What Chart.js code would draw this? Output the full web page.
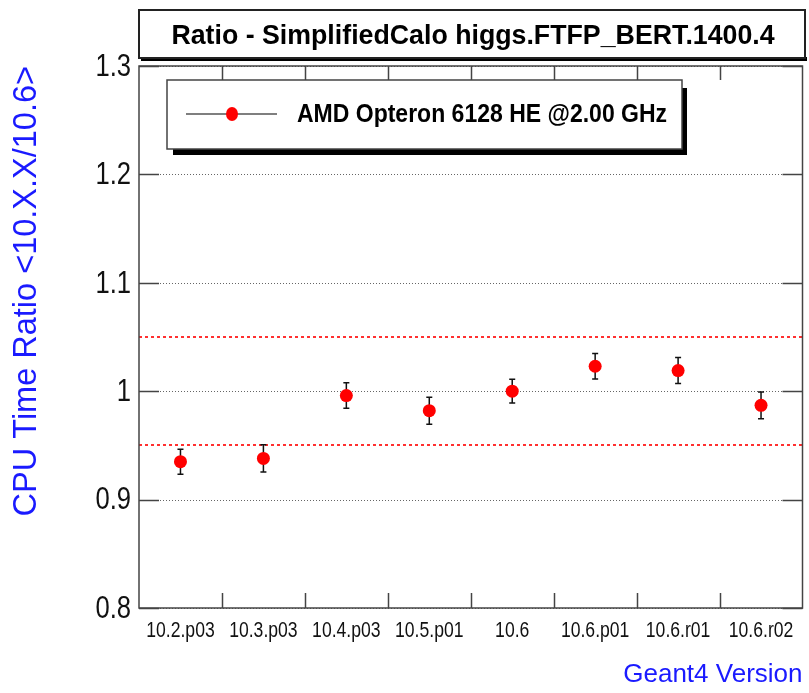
<!DOCTYPE html>
<html lang="en">
  <head>
    <meta charset="UTF-8" />
    <title>Ratio - SimplifiedCalo higgs.FTFP_BERT.1400.4</title>
    <style>
      html, body { margin: 0; padding: 0; background: #fff; }
      #wrap { width: 809px; height: 693px; }
    </style>
  </head>
  <body>
    <div id="wrap"><canvas id="myChart" width="809" height="693"></canvas></div>
  </body>
  <script src="https://cdn.jsdelivr.net/npm/chart.js"></script>
  <script>
    // Geant4 versions and CPU time ratio vs 10.6
    let versions = ["10.2.p03", "10.3.p03", "10.4.p03", "10.5.p01", "10.6", "10.6.p01", "10.6.r01", "10.6.r02"];
    let ratios = [0.935, 0.938, 0.996, 0.982, 1.0, 1.023, 1.019, 0.987];
    let errors = [0.0115, 0.0125, 0.0117, 0.0125, 0.011, 0.0117, 0.012, 0.0123];
    let limits = [0.95, 1.05];
    let yTicks = [0.8, 0.9, 1.0, 1.1, 1.2, 1.3];

    let titleText = "Ratio - SimplifiedCalo higgs.FTFP_BERT.1400.4";
    let legendText = "AMD Opteron 6128 HE @2.00 GHz";

    const sans = "'Liberation Sans', Arial, sans-serif";

    // the original uses a condensed helvetica, so squeeze text horizontally
    function squeezedText(ctx, text, x, y, font, sx, align, baseline) {
      ctx.save();
      ctx.font = font;
      ctx.textAlign = align;
      ctx.textBaseline = baseline;
      ctx.translate(x, y);
      ctx.scale(sx, 1);
      ctx.fillText(text, 0, 0);
      ctx.restore();
    }

    // frame, grid, limits, error bars, ticks, labels, title and legend boxes
    const rootStyle = {
      id: "rootStyle",
      beforeDatasetsDraw(chart) {
        const { ctx, chartArea: a, scales: { x, y } } = chart;
        ctx.save();
        // dotted grid
        ctx.strokeStyle = "#666";
        ctx.lineWidth = 1;
        ctx.setLineDash([1, 2]);
        yTicks.forEach((v) => {
          const py = Math.round(y.getPixelForValue(v)) + 0.5;
          ctx.beginPath();
          ctx.moveTo(a.left, py);
          ctx.lineTo(a.right, py);
          ctx.stroke();
        });
        // red limit lines
        ctx.strokeStyle = "#ff3030";
        ctx.lineWidth = 2;
        ctx.setLineDash([3, 3]);
        limits.forEach((v) => {
          const py = Math.round(y.getPixelForValue(v));
          ctx.beginPath();
          ctx.moveTo(a.left, py);
          ctx.lineTo(a.right, py);
          ctx.stroke();
        });
        ctx.setLineDash([]);
        // error bars
        ctx.strokeStyle = "#111";
        ctx.lineWidth = 1.5;
        ratios.forEach((r, i) => {
          const px = x.getPixelForValue(i);
          const y1 = y.getPixelForValue(r - errors[i]);
          const y2 = y.getPixelForValue(r + errors[i]);
          ctx.beginPath();
          ctx.moveTo(px, y1);
          ctx.lineTo(px, y2);
          ctx.moveTo(px - 3, y1);
          ctx.lineTo(px + 3, y1);
          ctx.moveTo(px - 3, y2);
          ctx.lineTo(px + 3, y2);
          ctx.stroke();
        });
        // frame and inward ticks
        ctx.strokeStyle = "#444";
        ctx.lineWidth = 1.5;
        ctx.strokeRect(a.left, a.top, a.right - a.left, a.bottom - a.top);
        ctx.beginPath();
        yTicks.forEach((v) => {
          const py = Math.round(y.getPixelForValue(v)) + 0.5;
          ctx.moveTo(a.left, py);
          ctx.lineTo(a.left + 20, py);
          ctx.moveTo(a.right, py);
          ctx.lineTo(a.right - 20, py);
        });
        for (let i = 1; i < versions.length; i++) {
          const px = Math.round((x.getPixelForValue(i - 1) + x.getPixelForValue(i)) / 2) + 0.5;
          ctx.moveTo(px, a.bottom);
          ctx.lineTo(px, a.bottom - 15);
          ctx.moveTo(px, a.top);
          ctx.lineTo(px, a.top + 14);
        }
        ctx.stroke();
        ctx.restore();

        // tick labels, placed by the scales
        ctx.fillStyle = "#111";
        y.ticks.forEach((t) => {
          squeezedText(ctx, y.getLabelForValue(t.value) || String(Math.round(t.value * 10) / 10),
            131, y.getPixelForValue(t.value) + 1, "32px " + sans, 0.8, "right", "middle");
        });
        x.getLabels().forEach((lab, i) => {
          squeezedText(ctx, lab, x.getPixelForValue(i), 637, "22px " + sans, 0.8, "center", "alphabetic");
        });
      },
      afterDraw(chart) {
        const { ctx } = chart;
        ctx.save();
        // title box
        ctx.fillStyle = "#000";
        ctx.fillRect(141, 57, 666, 4);
        ctx.fillStyle = "#fff";
        ctx.fillRect(139, 10, 666, 48);
        ctx.strokeStyle = "#222";
        ctx.lineWidth = 2;
        ctx.strokeRect(139, 10, 666, 48);
        ctx.fillStyle = "#000";
        squeezedText(ctx, titleText, 473, 36, "bold 28px " + sans, 0.955, "center", "middle");

        // legend box
        ctx.fillStyle = "#000";
        ctx.fillRect(173, 88, 514, 67);
        ctx.fillStyle = "#fff";
        ctx.fillRect(167, 80, 515, 69);
        ctx.strokeStyle = "#444";
        ctx.lineWidth = 1.5;
        ctx.strokeRect(167, 80, 515, 69);
        ctx.strokeStyle = "#555";
        ctx.beginPath();
        ctx.moveTo(186, 114);
        ctx.lineTo(277, 114);
        ctx.stroke();
        ctx.fillStyle = "#ff0000";
        ctx.beginPath();
        ctx.ellipse(232, 114, 6, 7, 0, 0, Math.PI * 2);
        ctx.fill();
        ctx.fillStyle = "#000";
        squeezedText(ctx, legendText, 297, 115, "bold 25px " + sans, 0.92, "left", "middle");
        ctx.restore();
      },
    };

    var ctx = document.getElementById("myChart").getContext("2d");
    var chart = new Chart(ctx, {
      type: "line",
      data: {
        labels: versions,
        datasets: [
          {
            label: legendText,
            data: ratios,
            showLine: false,
            pointRadius: 6.5,
            pointHoverRadius: 6.5,
            pointBackgroundColor: "#ff0000",
            pointBorderWidth: 0,
            borderColor: "#ff0000",
          },
        ],
      },
      options: {
        responsive: false,
        animation: false,
        events: [],
        layout: { padding: { top: 66, right: 4, left: 0, bottom: 0 } },
        plugins: { legend: { display: false }, tooltip: { enabled: false } },
        scales: {
          x: {
            type: "category",
            offset: true,
            grid: { display: false },
            border: { display: false },
            afterFit: (s) => { s.height = 85; },
            ticks: { display: false },
            title: {
              display: true,
              text: "Geant4 Version",
              align: "end",
              color: "#1a1aff",
              padding: { top: 0, bottom: 3 },
              font: { family: sans, size: 26 },
            },
          },
          y: {
            min: 0.8,
            max: 1.3,
            grid: { display: false },
            border: { display: false },
            afterFit: (s) => { s.width = 139; },
            afterBuildTicks: (s) => { s.ticks = yTicks.map((v) => ({ value: v })); },
            ticks: { display: false },
            title: {
              display: true,
              text: "CPU Time Ratio <10.X.X/10.6>",
              align: "end",
              color: "#1a1aff",
              padding: { top: 8, bottom: 0 },
              font: { family: sans, size: 32.5 },
            },
          },
        },
      },
      plugins: [rootStyle],
    });
  </script>
</html>
